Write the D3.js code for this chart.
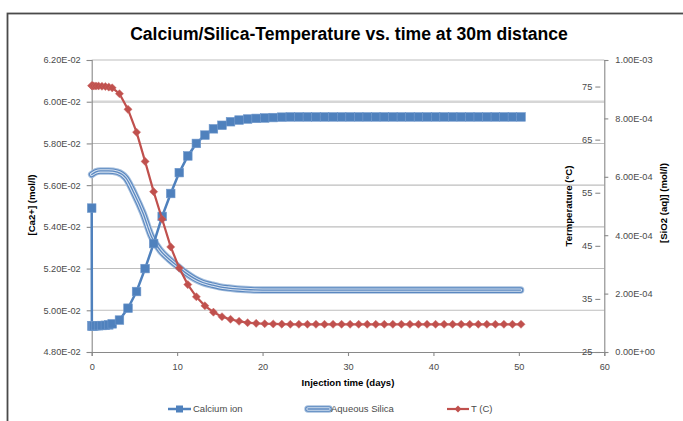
<!DOCTYPE html>
<html><head><meta charset="utf-8">
<script src="https://cdn.jsdelivr.net/npm/d3@7/dist/d3.min.js"></script>
<style>
body{margin:0;background:#fff;}
svg text{font-family:"Liberation Sans",Arial,sans-serif;}
</style></head>
<body><svg id="c" width="683" height="421"></svg>
<script>
// ---- data ----
const days = [0,0.02,0.1,0.25,0.5,0.8,1.2,1.6,2.0,2.4,3.25,4.25,5.25,6.25,7.25,8.25,9.25,10.25,11.25,12.25,13.25,14.25,15.25,16.25,17.25,18.25,19.25,20.25,21.25,22.25,23.25,24.25,25.25,26.25,27.25,28.25,29.25,30.25,31.25,32.25,33.25,34.25,35.25,36.25,37.25,38.25,39.25,40.25,41.25,42.25,43.25,44.25,45.25,46.25,47.25,48.25,49.25,50.25];
const calcium = [0.0549,0.04925,0.04925,0.04925,0.04926,0.04926,0.04927,0.04928,0.0493,0.04935,
 0.04953,0.0501,0.0509,0.0520,0.0532,0.0545,0.0556,0.0566,0.0574,0.0580,0.0584,0.0587,0.05887,0.05904,0.05912,0.05917,0.0592,0.05922,0.05924,0.05926,
 0.05927,0.05927,0.05927,0.05927,0.05927,0.05927,0.05927,0.05927,0.05927,0.05927,0.05927,0.05927,0.05927,0.05927,0.05927,0.05927,0.05927,0.05927,0.05927,0.05927,0.05927,0.05927,0.05927,0.05927,0.05927,0.05927,0.05927,0.05927];
const temperature = [75.15,75.15,75.15,75.1,75.1,75.1,75.05,75.0,74.9,74.75,
 73.65,70.7,66.4,60.9,55.2,50.0,44.8,40.8,37.7,35.4,33.7,32.5,31.65,31.16,30.78,30.52,30.4,30.32,30.28,30.25,
 30.22,30.22,30.22,30.22,30.22,30.22,30.22,30.22,30.22,30.22,30.22,30.22,30.22,30.22,30.22,30.22,30.22,30.22,30.22,30.22,30.22,30.22,30.22,30.22,30.22,30.22,30.22,30.22];
const silicaDays = [0,0.5,1,2,3,4,5,6,7,8,9,10,11,12,13,14,15,16,17,18,19,20,25,30,35,40,45,50.2];
const silica = [6.08e-4,6.17e-4,6.2e-4,6.2e-4,6.16e-4,5.96e-4,5.41e-4,4.76e-4,3.95e-4,3.49e-4,3.19e-4,2.95e-4,2.71e-4,2.52e-4,2.38e-4,2.30e-4,2.23e-4,2.19e-4,2.16e-4,2.14e-4,2.125e-4,2.12e-4,2.12e-4,2.12e-4,2.12e-4,2.12e-4,2.12e-4,2.12e-4];
const dayTicks = [0,10,20,30,40,50,60];
const caTicks = [0.048,0.050,0.052,0.054,0.056,0.058,0.060,0.062];
const tempTicks = [25,35,45,55,65,75];
const siTicks = [0,0.0002,0.0004,0.0006,0.0008,0.001];
const seriesNames = ["Calcium ion","Aqueous Silica","T (C)"];
const titleText = "Calcium/Silica-Temperature vs. time at 30m distance";

// ---- layout ----
const L=91.7, R=604.3, T=60, B=352;
const svg = d3.select("#c");
const x = d3.scaleLinear([0,60],[L,R]);
const yCa = d3.scaleLinear([0.048,0.062],[B,T]);
const yT = d3.scaleLinear([25,80],[B,T]);
const ySi = d3.scaleLinear([0,0.001],[B,T]);
const fmtE = v => { const [m,e] = v.toExponential(2).split('e'); const s = e[0]==='-'?'-':'+'; return m+'E'+s+String(Math.abs(+e)).padStart(2,'0'); };

const blue="#4F81BD", red="#C0504D", grid="#BEBEBE", axisC="#898989", txt="#4a4a4a";
const tickFont = 9.2;

// frame
svg.append("rect").attr("x",7.5).attr("y",13.5).attr("width",720).attr("height",460)
  .attr("fill","none").attr("stroke","#4a4a4a").attr("stroke-width",1.8);

// title
svg.append("text").attr("x",349).attr("y",40).attr("text-anchor","middle")
  .attr("font-size",17.6).attr("font-weight","bold").attr("fill","#000").text(titleText);

// gridlines
svg.append("g").selectAll("line").data(caTicks.filter(v=>v>0.048)).join("line")
  .attr("x1",L).attr("x2",R).attr("y1",d=>yCa(d)).attr("y2",d=>yCa(d))
  .attr("stroke",d=>Math.abs(d-0.060)<1e-9?"#D6D6D6":grid)
  .attr("stroke-width",d=>Math.abs(d-0.060)<1e-9?2.6:1.1);

// left axis
const gl = svg.append("g").attr("transform",`translate(${L},0)`)
  .call(d3.axisLeft(yCa).tickValues(caTicks).tickFormat(fmtE).tickSize(5).tickPadding(6));
// right SiO2 axis
const gr = svg.append("g").attr("transform",`translate(${R},0)`)
  .call(d3.axisRight(ySi).tickValues(siTicks).tickFormat(fmtE).tickSize(4).tickPadding(7));
// bottom axis
const gb = svg.append("g").attr("transform",`translate(0,${B})`)
  .call(d3.axisBottom(x).tickValues(dayTicks).tickSize(4).tickPadding(5));
// temperature axis (floating labels, no line)
const gt = svg.append("g").attr("transform",`translate(${R-4},0)`)
  .call(d3.axisLeft(yT).tickValues(tempTicks).tickSize(5).tickPadding(3));
gt.select(".domain").remove();

[gl,gr,gb,gt].forEach(g=>{
  g.select(".domain").attr("stroke",axisC).attr("stroke-width",1.1);
  g.selectAll(".tick line").attr("stroke",axisC).attr("stroke-width",1.1);
  g.selectAll(".tick text").attr("fill",txt).attr("font-size",tickFont).style("font-family","'Liberation Sans',Arial,sans-serif");
});
gb.selectAll(".tick text").attr("dy","0.95em");

// axis titles
svg.append("text").attr("transform","translate(35,205) rotate(-90)").attr("text-anchor","middle")
  .attr("font-size",9.6).attr("font-weight","bold").attr("fill","#000").text("[Ca2+] (mol/l)");
svg.append("text").attr("transform","translate(572,206) rotate(-90)").attr("text-anchor","middle")
  .attr("font-size",9.6).attr("font-weight","bold").attr("fill","#000").text("Termperature (°C)");
svg.append("text").attr("transform","translate(667,203) rotate(-90)").attr("text-anchor","middle")
  .attr("font-size",9.6).attr("font-weight","bold").attr("fill","#000").text("[SiO2 (aq)] (mol/l)");
svg.append("text").attr("x",348).attr("y",386).attr("text-anchor","middle")
  .attr("font-size",9.6).attr("font-weight","bold").attr("fill","#000").text("Injection time (days)");

// silica compound line
const siData = silicaDays.map((d,i)=>[d,silica[i]]);
const siLine = d3.line().x(d=>x(d[0])).y(d=>ySi(d[1])).curve(d3.curveMonotoneX);
function compound(g, path){
  [[7.5,"#A7C0DE"],[5.6,"#5B88C0"],[3.4,"#D5E1F0"],[1.3,"#5B88C0"]].forEach(([w,c])=>{
    g.append("path").attr("d",path).attr("fill","none").attr("stroke",c).attr("stroke-width",w).attr("stroke-linecap","round");
  });
}
compound(svg.append("g"), siLine(siData));

// calcium
const caData = days.map((d,i)=>[d,calcium[i]]);
svg.append("path").attr("d",d3.line().x(d=>x(d[0])).y(d=>yCa(d[1]))(caData))
  .attr("fill","none").attr("stroke",blue).attr("stroke-width",2.5);
svg.append("g").selectAll("rect").data(caData).join("rect")
  .attr("x",d=>x(d[0])-4.3).attr("y",d=>yCa(d[1])-4.3).attr("width",8.6).attr("height",8.6)
  .attr("fill",blue).attr("stroke","#6E97CB").attr("stroke-width",0.6);

// temperature
const tData = days.map((d,i)=>[d,temperature[i]]);
svg.append("path").attr("d",d3.line().x(d=>x(d[0])).y(d=>yT(d[1]))(tData))
  .attr("fill","none").attr("stroke",red).attr("stroke-width",2.2);
const dia = d3.symbol().type(d3.symbolDiamond2).size(42)();
svg.append("g").selectAll("path").data(tData).join("path")
  .attr("d",dia).attr("transform",d=>`translate(${x(d[0])},${yT(d[1])})`)
  .attr("fill",red).attr("stroke","#C96764").attr("stroke-width",0.5);

// legend
const ly = 409;
const lg = svg.append("g");
lg.append("line").attr("x1",168).attr("x2",191).attr("y1",ly).attr("y2",ly).attr("stroke",blue).attr("stroke-width",2.5);
lg.append("rect").attr("x",176).attr("y",ly-3.5).attr("width",7).attr("height",7).attr("fill",blue);
lg.append("text").attr("x",193).attr("y",ly+3.3).attr("font-size",tickFont+0.3).attr("fill",txt).text(seriesNames[0]);
compound(lg, `M308,${ly}L329,${ly}`);
lg.append("text").attr("x",331).attr("y",ly+3.3).attr("font-size",tickFont+0.3).attr("fill",txt).text(seriesNames[1]);
lg.append("line").attr("x1",447).attr("x2",469).attr("y1",ly).attr("y2",ly).attr("stroke",red).attr("stroke-width",2.2);
lg.append("path").attr("d",d3.symbol().type(d3.symbolDiamond2).size(30)()).attr("transform",`translate(458,${ly})`).attr("fill",red);
lg.append("text").attr("x",471).attr("y",ly+3.3).attr("font-size",tickFont+0.3).attr("fill",txt).text(seriesNames[2]);
</script></body></html>
